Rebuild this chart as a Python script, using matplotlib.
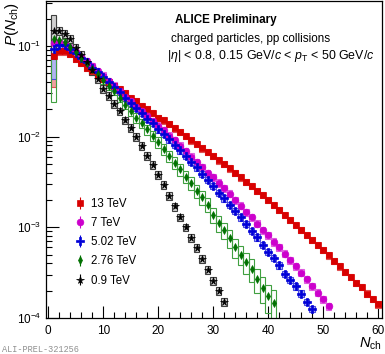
import numpy as np
import matplotlib
matplotlib.use("Agg")
import matplotlib.pyplot as plt

plt.rcParams['font.family'] = ['Liberation Sans', 'DejaVu Sans']
plt.rcParams['mathtext.fontset'] = 'custom'
plt.rcParams['mathtext.rm'] = 'Liberation Sans'
plt.rcParams['mathtext.it'] = 'Liberation Sans:italic'
plt.rcParams['mathtext.bf'] = 'Liberation Sans:bold'

# log10 P(Nch), one value per Nch = 1, 2, 3, ...
log_13 = [-1.11, -1.06, -1.06, -1.09, -1.14, -1.19, -1.24, -1.28, -1.32, -1.36,
          -1.40, -1.44, -1.48, -1.52, -1.57, -1.61, -1.66, -1.70, -1.74, -1.79,
          -1.82, -1.86, -1.91, -1.95, -1.99, -2.04, -2.08, -2.13, -2.17, -2.21,
          -2.26, -2.30, -2.35, -2.40, -2.45, -2.50, -2.54, -2.60, -2.64, -2.70,
          -2.75, -2.81, -2.86, -2.92, -2.97, -3.03, -3.08, -3.14, -3.19, -3.25,
          -3.31, -3.37, -3.43, -3.49, -3.55, -3.61, -3.66, -3.73, -3.79, -3.85]
log_7 = [-0.97, -0.96, -0.98, -1.02, -1.07, -1.12, -1.17, -1.22, -1.28, -1.33,
         -1.39, -1.44, -1.50, -1.56, -1.61, -1.67, -1.72, -1.77, -1.83, -1.88,
         -1.93, -1.99, -2.04, -2.10, -2.16, -2.22, -2.28, -2.34, -2.40, -2.45,
         -2.51, -2.57, -2.63, -2.70, -2.76, -2.83, -2.89, -2.96, -3.03, -3.09,
         -3.16, -3.22, -3.29, -3.36, -3.43, -3.50, -3.57, -3.65, -3.72, -3.79,
         -3.87]
log_502 = [-1.03, -0.99, -0.99, -1.03, -1.08, -1.13, -1.18, -1.24, -1.29, -1.34,
           -1.40, -1.45, -1.51, -1.57, -1.63, -1.68, -1.74, -1.80, -1.85, -1.92,
           -1.97, -2.03, -2.09, -2.15, -2.21, -2.28, -2.34, -2.41, -2.48, -2.54,
           -2.62, -2.68, -2.75, -2.82, -2.89, -2.96, -3.04, -3.11, -3.19, -3.27,
           -3.34, -3.42, -3.51, -3.58, -3.65, -3.73, -3.82, -3.90]
log_276 = [-0.92, -0.93, -0.96, -1.01, -1.07, -1.13, -1.19, -1.25, -1.31, -1.37,
           -1.44, -1.50, -1.57, -1.65, -1.72, -1.79, -1.85, -1.92, -1.99, -2.06,
           -2.14, -2.21, -2.29, -2.36, -2.44, -2.51, -2.60, -2.67, -2.75, -2.86,
           -2.95, -3.03, -3.12, -3.22, -3.30, -3.38, -3.46, -3.57, -3.67, -3.76,
           -3.83]
log_09 = [-0.84, -0.83, -0.87, -0.92, -1.02, -1.10, -1.18, -1.27, -1.36, -1.47,
          -1.55, -1.64, -1.72, -1.82, -1.90, -2.00, -2.10, -2.21, -2.31, -2.42,
          -2.53, -2.65, -2.77, -2.89, -3.00, -3.12, -3.23, -3.35, -3.47, -3.59,
          -3.70, -3.82]

# relative systematic uncertainties (boxes)
sys_13 = [0.54] + [0.08] * 59
sys_7 = [0.5] + [0.09] * 50
sys_502 = [0.54] + [0.08] * 47
sys_276 = [0.8, 0.12, 0.1, 0.1, 0.1, 0.1, 0.1, 0.1, 0.1, 0.1, 0.1, 0.1, 0.11, 0.11,
           0.12, 0.12, 0.12, 0.13, 0.13, 0.13, 0.14, 0.14, 0.15, 0.15, 0.16, 0.16,
           0.17, 0.18, 0.18, 0.19, 0.2, 0.21, 0.22, 0.23, 0.24, 0.26, 0.28, 0.3,
           0.32, 0.34, 0.36]
sys_09 = [0.5] + [0.1] * 31

labels = ['13 TeV', '7 TeV', '5.02 TeV', '2.76 TeV', '0.9 TeV']

series = [
    (log_13, sys_13, '#d80000', 's', 4.3, '#f0a0a0', '#e05050'),
    (log_7, sys_7, '#cc00cc', 'o', 4.8, 'none', '#e060e0'),
    (log_502, sys_502, '#0000d8', 'P', 5.5, '#b0b4f0', '#4a4ae0'),
    (log_276, sys_276, '#007000', 'd', 4.2, 'none', '#40a040'),
    (log_09, sys_09, '#000000', '*', 5.5, '#d0d0d0', '#404040'),
]

fig = plt.figure(figsize=(3.85, 3.54), dpi=100)
ax = fig.add_axes([0.1195, 0.1017, 0.8725, 0.8943])
ax.set_yscale('log')

handles = []
for k, (logp, sysr, col, mk, ms, fc, ec) in enumerate(series):
    n = np.arange(1, len(logp) + 1)
    p = 10.0 ** np.array(logp)
    s = np.array(sysr)
    lo = p * (1 - s)
    hi = p * (1 + s)
    ax.bar(n, hi - lo, bottom=lo, width=1.0, facecolor=fc, edgecolor=ec,
           linewidth=0.8, zorder=2 + k * 0.1)

for k, (logp, sysr, col, mk, ms, fc, ec) in enumerate(series):
    n = np.arange(1, len(logp) + 1)
    p = 10.0 ** np.array(logp)
    h = ax.errorbar(n, p, yerr=0.03 * p, fmt=mk, color=col, ms=ms, mew=0.5,
                    elinewidth=0.8, capsize=0, zorder=4 + k * 0.1, label=labels[k])
    handles.append(h)

ax.set_xlim(-0.4, 60.7)
ax.set_ylim(1e-4, 0.31)
ax.set_xticks([0, 10, 20, 30, 40, 50, 60])
ax.set_xticks(np.arange(0, 61, 2), minor=True)
ax.set_yticks([1e-4, 1e-3, 1e-2, 1e-1])
ax.set_yticklabels([r'$10^{-4}$', r'$10^{-3}$', r'$10^{-2}$', r'$10^{-1}$'])
ax.tick_params(which='both', direction='in', top=False, right=False, labelsize=8.5)
ax.tick_params(which='major', length=9, width=0.8)
ax.tick_params(which='minor', length=4.5, width=0.8)
ax.tick_params(axis='x', pad=5)
for sp in ax.spines.values():
    sp.set_linewidth(0.9)

ax.legend(handles=handles, loc='upper left', bbox_to_anchor=(0.18, 0.457),
          bbox_transform=fig.transFigure, frameon=False, fontsize=8.3,
          handlelength=0.9, handletextpad=0.45, labelspacing=0.62, borderpad=0)

fig.text(175 / 385, 1 - 20 / 354, 'ALICE Preliminary', fontsize=8.4,
         fontweight='bold', va='center', ha='left')
fig.text(171 / 385, 1 - 39 / 354, 'charged particles, pp collisions',
         fontsize=8.4, va='center', ha='left')
fig.text(167 / 385, 1 - 56 / 354,
         r'$|\eta|$ < 0.8, 0.15 GeV/$c$ < $p_{\rm T}$ < 50 GeV/$c$',
         fontsize=8.9, va='center', ha='left')

fig.text(1 - 3 / 385, 1 - 344 / 354, r'$N_{\rm ch}$', fontsize=10.5,
         ha='right', va='center')
fig.text(12 / 385, 1 - 2 / 354, r'$P(N_{\rm ch})$', fontsize=11,
         rotation=90, ha='center', va='top')
fig.text(2 / 385, 1 - 349 / 354, 'ALI-PREL-321256', fontsize=6.2,
         family='Liberation Mono', color='#909090', va='center', ha='left')

fig.savefig('out.png', dpi=100)
